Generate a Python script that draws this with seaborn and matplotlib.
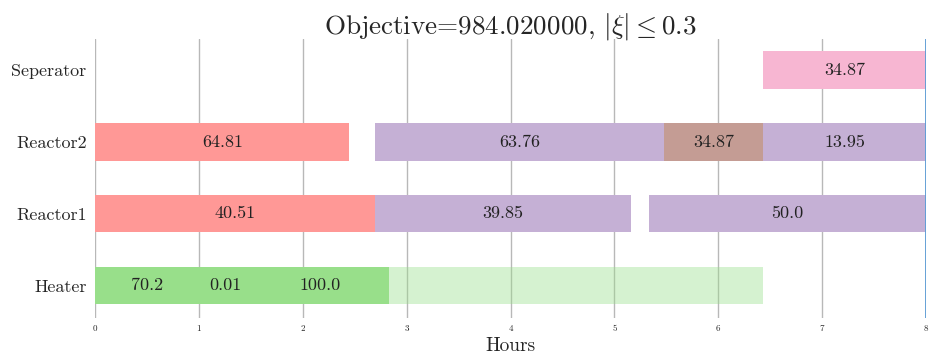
import matplotlib
matplotlib.use("Agg")
import matplotlib.pyplot as plt
import seaborn as sns

# Schedule: one entry per task block
units = ["Heater", "Reactor1", "Reactor2", "Seperator"]

task_unit = ["Heater", "Heater", "Heater",
             "Reactor1", "Reactor1", "Reactor1",
             "Reactor2", "Reactor2", "Reactor2", "Reactor2",
             "Seperator"]
task_start = [0.0, 1.0, 1.5,
              0.0, 2.70, 5.33,
              0.0, 2.70, 5.48, 6.43,
              6.43]
task_end = [1.0, 1.5, 2.83,
            2.70, 5.16, 8.0,
            2.45, 5.48, 6.43, 8.0,
            8.0]
task_amount = ["70.2", "0.01", "100.0",
               "40.51", "39.85", "50.0",
               "64.81", "63.76", "34.87", "13.95",
               "34.87"]
task_kind = ["heat", "heat", "heat",
             "rxn1", "rxn2", "rxn2",
             "rxn1", "rxn2", "rxn3", "rxn2",
             "sep"]

# Heater holding period (no batch label)
hold_unit = ["Heater"]
hold_start = [2.83]
hold_end = [6.43]

horizon = 8.0
x_ticks = [0, 1, 2, 3, 4, 5, 6, 7, 8]

palette = {
    "heat": "#98df8a",
    "rxn1": "#ff9896",
    "rxn2": "#c5b0d5",
    "rxn3": "#c49c94",
    "sep": "#f7b6d2",
}

sns.set_style("whitegrid")
plt.rcParams["font.family"] = ["cmr10", "DejaVu Serif"]
plt.rcParams["mathtext.fontset"] = "cm"
plt.rcParams["axes.unicode_minus"] = False
plt.rcParams["axes.formatter.use_mathtext"] = True

fig = plt.figure(figsize=(9.32, 3.56), dpi=100)
ax = fig.add_axes([0.1019, 0.1067, 0.8917, 0.7837])

ypos = {u: i for i, u in enumerate(units)}
bar_h = 0.52

for u, s, e, lab, k in zip(task_unit, task_start, task_end, task_amount, task_kind):
    ax.barh(ypos[u], e - s, left=s, height=bar_h, color=palette[k], lw=0)
    ax.text((s + e) / 2, ypos[u], lab, ha="center", va="center",
            fontsize=13, color="#222222")

for u, s, e in zip(hold_unit, hold_start, hold_end):
    ax.barh(ypos[u], e - s, left=s, height=bar_h, color=palette["heat"],
            alpha=0.4, lw=0)

ax.axvline(horizon, color="#5b9bd5", lw=1.3)

ax.set_xlim(0, horizon)
ax.set_ylim(-0.45, 3.43)
ax.set_xticks(x_ticks)
ax.set_xticklabels([str(t) for t in x_ticks], fontsize=6.5)
ax.set_yticks(range(len(units)))
ax.set_yticklabels(units, fontsize=13)
ax.tick_params(axis="x", length=0, pad=5)
ax.tick_params(axis="y", length=0, pad=6)
ax.grid(axis="x", color="#b8b8b8", lw=1)
ax.grid(axis="y", visible=False)
ax.set_axisbelow(True)
sns.despine(ax=ax, left=True, bottom=True)

ax.set_xlabel("Hours", fontsize=14, labelpad=3)
ax.set_title(r"Objective=984.020000, $|\xi| \leq 0.3$", fontsize=19.5, pad=4)

fig.savefig("out.png", dpi=100)
